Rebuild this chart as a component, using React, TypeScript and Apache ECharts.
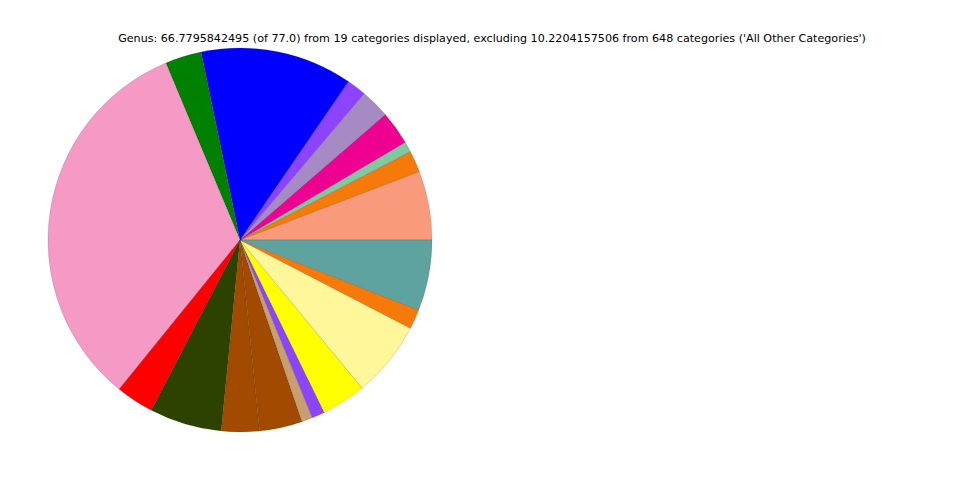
import React, { useEffect, useRef } from "react";
import * as echarts from "echarts";

const titleText =
  "Genus: 66.7795842495 (of 77.0) from 19 categories displayed, excluding 10.2204157506 from 648 categories ('All Other Categories')";

const categories = [
  "Genus 1", "Genus 2", "Genus 3", "Genus 4", "Genus 5", "Genus 6", "Genus 7",
  "Genus 8", "Genus 9", "Genus 10", "Genus 11", "Genus 12", "Genus 13", "Genus 14",
  "Genus 15", "Genus 16", "Genus 17", "Genus 18", "Genus 19",
];

const values = [
  3.88, 1.21, 0.59, 1.89, 1.65, 1.09, 8.55, 2.04, 21.93, 2.13,
  4.06, 2.13, 2.41, 0.61, 0.72, 2.5, 4.28, 1.11, 3.97,
];

const colors = [
  "#F89A7B", "#F57A0A", "#80C8A0", "#EE0090", "#A68AC3", "#8C44FF", "#0000FF",
  "#008000", "#F49AC4", "#FF0000", "#2E4200", "#A24A00", "#A24A00", "#C8A070",
  "#8C44FF", "#FFFF00", "#FFF799", "#F57A0A", "#5FA3A0",
];

export default function App() {
  const ref = useRef<HTMLDivElement>(null);
  useEffect(() => {
    if (!ref.current) return;
    const chart = echarts.init(ref.current, undefined, { renderer: "svg" });
    chart.setOption({
      animation: false,
      backgroundColor: "#ffffff",
      title: {
        text: titleText,
        left: 487,
        top: 28,
        textAlign: "center",
        textStyle: {
          fontFamily: "DejaVu Sans",
          fontSize: 11.13,
          fontWeight: "normal",
          color: "#000000",
        },
      },
      series: [
        {
          type: "pie",
          center: [240, 240],
          radius: 192,
          startAngle: 0,
          clockwise: false,
          label: { show: false },
          labelLine: { show: false },
          emphasis: { disabled: true },
          itemStyle: {
            borderColor: "rgba(0,0,0,0.25)",
            borderWidth: 0.5,
          },
          data: categories.map((name, i) => ({
            name,
            value: values[i],
            itemStyle: { color: colors[i] },
          })),
        },
      ],
    });
    return () => chart.dispose();
  }, []);
  return (
    <div
      ref={ref}
      style={{ position: "fixed", left: 0, top: 0, width: 960, height: 480 }}
    />
  );
}
